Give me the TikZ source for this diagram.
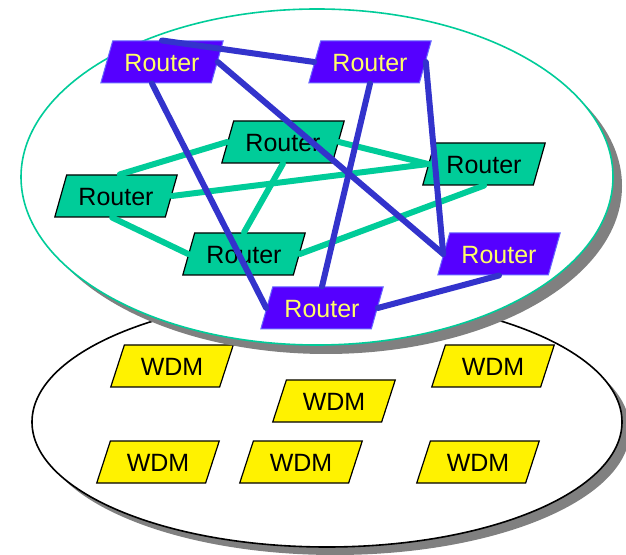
\documentclass[tikz,border=0pt]{standalone}
\usepackage{fontspec}
\setmainfont{Liberation Sans}
\usetikzlibrary{shapes.geometric}
\definecolor{coreviolet}{HTML}{5500FF}
\definecolor{coreedge}{HTML}{6666FF}
\definecolor{coretext}{HTML}{FFFF66}
\definecolor{edgegreen}{HTML}{00CC99}
\definecolor{linkblue}{HTML}{3333CC}
\definecolor{shadowgray}{HTML}{808080}

\begin{document}
\begin{tikzpicture}[
  x=0.5pt, y=-0.5pt,
  router/.style={trapezium, trapezium left angle=67, trapezium right angle=113, trapezium stretches=true, minimum width=61.5pt, minimum height=21pt, inner sep=1pt, text height=0.92em, text depth=0pt, font=\fontsize{12.5}{15}\selectfont},
  corerouter/.style={router, fill=coreviolet, draw=coreedge, text=coretext, line width=0.5pt},
  edgerouter/.style={router, fill=edgegreen, draw=black, line width=0.6pt},
  wdmbox/.style={router, fill=yellow, draw=black, line width=0.6pt},
  blink/.style={draw=linkblue, line width=3pt, line cap=round},
  glink/.style={draw=edgegreen, line width=3pt, line cap=round}
]
  \useasboundingbox (0,0) rectangle (626,555);
  % optical layer
  \fill[shadowgray] (335,430) ellipse [x radius=295, y radius=125];
  \draw[fill=white, line width=0.8pt] (327,422) ellipse [x radius=295, y radius=125];
  \node[wdmbox] (w1) at (172,366) {WDM};
  \node[wdmbox] (w2) at (334,401) {WDM};
  \node[wdmbox] (w3) at (493,366) {WDM};
  \node[wdmbox] (w4) at (158,462) {WDM};
  \node[wdmbox] (w5) at (301,462) {WDM};
  \node[wdmbox] (w6) at (478,462) {WDM};
  % IP layer
  \fill[shadowgray] (326,186) ellipse [x radius=296, y radius=168];
  \draw[fill=white, draw=edgegreen, line width=0.8pt] (317,177) ellipse [x radius=296, y radius=168];
  \node[edgerouter] (r3) at (283,142) {Router};
  \node[edgerouter] (r4) at (484,164) {Router};
  \node[edgerouter] (r5) at (116,196) {Router};
  \node[edgerouter] (r6) at (244,254) {Router};
  % green links
  \draw[glink] (r3.west) -- (r5.80);
  \draw[glink] (r5.east) -- (r4.west);
  \draw[glink] (r3.east) -- (r4.west);
  \draw[glink] (r5.260) -- (r6.west);
  \draw[glink] (r3.south) -- (r6.north);
  \draw[glink] (r6.east) -- (r4.south);
  \node[corerouter] (r1) at (162,62) {Router};
  \node[corerouter] (r2) at (370,62) {Router};
  \node[corerouter] (r7) at (499,254) {Router};
  \node[corerouter] (r8) at (322,308) {Router};
  % blue links
  \draw[blink] (r1.north) -- (r2.west);
  \draw[blink] (r1.east) -- (r7.west);
  \draw[blink] (r1.245) -- (r8.west);
  \draw[blink] (r2.south) -- (r8.north);
  \draw[blink] (r2.east) -- (r7.west);
  \draw[blink] (r8.east) -- (r7.south);
\end{tikzpicture}
\end{document}
